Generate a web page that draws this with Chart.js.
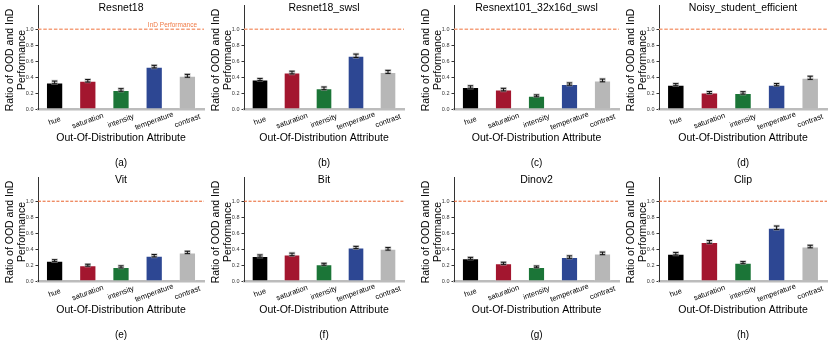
<!DOCTYPE html>
<html>
<head>
<meta charset="utf-8">
<script src="https://cdn.jsdelivr.net/npm/chart.js@4.4.0/dist/chart.umd.min.js"></script>
<style>
  body { margin: 0; background: #fff; width: 830px; height: 344px; position: relative; overflow: hidden; }
  canvas { position: absolute; }
</style>
</head>
<body>
<script>
// categories and tick labels
const attributes = ["hue", "saturation", "intensity", "temperature", "contrast"];
const models = ["Resnet18", "Resnet18_swsl", "Resnext101_32x16d_swsl", "Noisy_student_efficient", "Vit", "Bit", "Dinov2", "Clip"];
const panelLetters = ["(a)", "(b)", "(c)", "(d)", "(e)", "(f)", "(g)", "(h)"];
const yTicks = [0.0, 0.2, 0.4, 0.6, 0.8, 1.0];
const indLevel = 1.0;

// ratio values
const resnet18 = [0.333, 0.354, 0.239, 0.531, 0.416];
const resnet18Swsl = [0.370, 0.457, 0.259, 0.667, 0.465];
const resnext101 = [0.276, 0.243, 0.165, 0.313, 0.358];
const noisyStudent = [0.305, 0.206, 0.202, 0.305, 0.391];
const vit = [0.255, 0.198, 0.177, 0.317, 0.358];
const bit = [0.313, 0.333, 0.210, 0.420, 0.403];
const dinov2 = [0.284, 0.222, 0.177, 0.300, 0.346];
const clip = [0.342, 0.490, 0.230, 0.667, 0.432];

// error bar half widths
const resnet18Err = [0.017, 0.016, 0.016, 0.016, 0.018];
const resnet18SwslErr = [0.013, 0.017, 0.017, 0.021, 0.019];
const resnext101Err = [0.015, 0.016, 0.012, 0.014, 0.017];
const noisyStudentErr = [0.013, 0.013, 0.015, 0.014, 0.020];
const vitErr = [0.012, 0.012, 0.013, 0.015, 0.015];
const bitErr = [0.014, 0.016, 0.012, 0.014, 0.016];
const dinov2Err = [0.012, 0.013, 0.011, 0.015, 0.016];
const clipErr = [0.016, 0.017, 0.013, 0.022, 0.016];

const allValues = [resnet18, resnet18Swsl, resnext101, noisyStudent, vit, bit, dinov2, clip];
const allErrors = [resnet18Err, resnet18SwslErr, resnext101Err, noisyStudentErr, vitErr, bitErr, dinov2Err, clipErr];

const barColors = ["#000000", "#a3162f", "#1b7537", "#2d4793", "#b7b7b7"];
const FONT = "'Liberation Sans', Arial, sans-serif";

// layout of the 4x2 grid
const axisLeft = [38, 244, 454, 659];
const plotWidth = [166, 160, 165, 168];
const rowTop = [0, 172];

// extra drawing: dashed InD line, error bars, text
const extras = {
    id: "extras",
    beforeDatasetsDraw(chart) {
        const ctx = chart.ctx;
        const y = chart.scales.y.getPixelForValue(indLevel);
        const a = chart.chartArea;
        const row = chart.options.plugins.extras.row;
        ctx.save();
        ctx.strokeStyle = row === 0 ? "#f5a07c" : "#e8602a";
        ctx.lineWidth = row === 0 ? 1.5 : 1;
        ctx.setLineDash(row === 0 ? [3.5, 1.8] : [3, 1.6]);
        ctx.beginPath();
        ctx.moveTo(a.left, y);
        ctx.lineTo(a.right, y);
        ctx.stroke();
        ctx.restore();
    },
    afterDatasetsDraw(chart) {
        const ctx = chart.ctx;
        const yScale = chart.scales.y;
        const errs = chart.options.plugins.extras.errors;
        const meta = chart.getDatasetMeta(0);
        ctx.save();
        meta.data.forEach(function (bar, i) {
            const v = chart.data.datasets[0].data[i];
            const y1 = yScale.getPixelForValue(v - errs[i]);
            const y2 = yScale.getPixelForValue(v + errs[i]);
            [["rgba(160,160,160,0.6)", 2.6, 3.2], ["#111", 1, 2.6]].forEach(function (s) {
                ctx.strokeStyle = s[0];
                ctx.lineWidth = s[1];
                ctx.beginPath();
                ctx.moveTo(bar.x, y1); ctx.lineTo(bar.x, y2);
                ctx.moveTo(bar.x - s[2], y1); ctx.lineTo(bar.x + s[2], y1);
                ctx.moveTo(bar.x - s[2], y2); ctx.lineTo(bar.x + s[2], y2);
                ctx.stroke();
            });
        });
        ctx.restore();
    },
    afterDraw(chart) {
        const ctx = chart.ctx;
        const a = chart.chartArea;
        const o = chart.options.plugins.extras;
        const xScale = chart.scales.x;
        const cx = (a.left + a.right) / 2;
        ctx.save();
        ctx.fillStyle = "#000";
        ctx.textAlign = "center";
        ctx.textBaseline = "middle";
        // title inside the axes
        ctx.font = "10.5px " + FONT;
        ctx.fillText(o.title, cx, 8);
        // rotated category labels
        ctx.font = "7.5px " + FONT;
        chart.data.labels.forEach(function (lab, i) {
            ctx.save();
            ctx.translate(xScale.getPixelForTick(i), a.bottom + 12);
            ctx.rotate(-20 * Math.PI / 180);
            ctx.fillText(lab, 0, 0);
            ctx.restore();
        });
        // x axis title
        ctx.font = "10.5px " + FONT;
        ctx.fillText("Out-Of-Distribution Attribute", cx, 138);
        // panel letter
        ctx.font = "10px " + FONT;
        ctx.fillText(o.letter, cx, 163);
        // y axis title (two lines)
        ctx.save();
        ctx.translate(0, 60);
        ctx.rotate(-Math.PI / 2);
        ctx.font = "10.5px " + FONT;
        ctx.fillText("Ratio of OOD and InD", 0, 10);
        ctx.fillText("Performance", 0, 22);
        ctx.restore();
        if (o.showLegend) {
            ctx.fillStyle = "#f07a45";
            ctx.font = "6.5px " + FONT;
            ctx.textAlign = "right";
            ctx.fillText("InD Performance", a.right - 7, chart.scales.y.getPixelForValue(indLevel) - 4);
        }
        ctx.restore();
    }
};

models.forEach(function (name, k) {
    const col = k % 4;
    const row = Math.floor(k / 4);
    const canvas = document.createElement("canvas");
    const w = 38 + plotWidth[col] + 2;
    canvas.width = w;
    canvas.height = 172;
    canvas.style.left = (axisLeft[col] - 38) + "px";
    canvas.style.top = rowTop[row] + "px";
    document.body.appendChild(canvas);

    new Chart(canvas.getContext("2d"), {
        type: "bar",
        data: {
            labels: attributes,
            datasets: [{
                data: allValues[k],
                backgroundColor: barColors,
                borderColor: "rgba(255,255,255,0.55)",
                borderWidth: 1,
                barPercentage: 0.52,
                categoryPercentage: 1.0
            }]
        },
        options: {
            responsive: false,
            animation: false,
            devicePixelRatio: 1,
            layout: { padding: { top: 4, right: 2, left: 0, bottom: 0 } },
            plugins: {
                legend: { display: false },
                tooltip: { enabled: false },
                extras: { title: name, letter: panelLetters[k], errors: allErrors[k], row: row, showLegend: k === 0 }
            },
            scales: {
                x: {
                    grid: { display: false },
                    border: { display: true, color: "#bcbcbc", width: 2.5 },
                    ticks: { display: false },
                    afterFit: function (s) { s.height = 172 - 109; }
                },
                y: {
                    min: 0,
                    max: 1.3,
                    grid: { display: true, drawOnChartArea: false, drawTicks: true, tickLength: 2.5, color: "#333" },
                    border: { display: true, color: "#333", width: 1 },
                    afterBuildTicks: function (s) { s.ticks = yTicks.map(function (v) { return { value: v }; }); },
                    ticks: {
                        font: { size: 5.5, family: FONT },
                        color: "#333",
                        padding: 2,
                        callback: function (v) { return v.toFixed(1); }
                    },
                    afterFit: function (s) { s.width = 38; }
                }
            }
        },
        plugins: [extras]
    });
});
</script>
</body>
</html>
